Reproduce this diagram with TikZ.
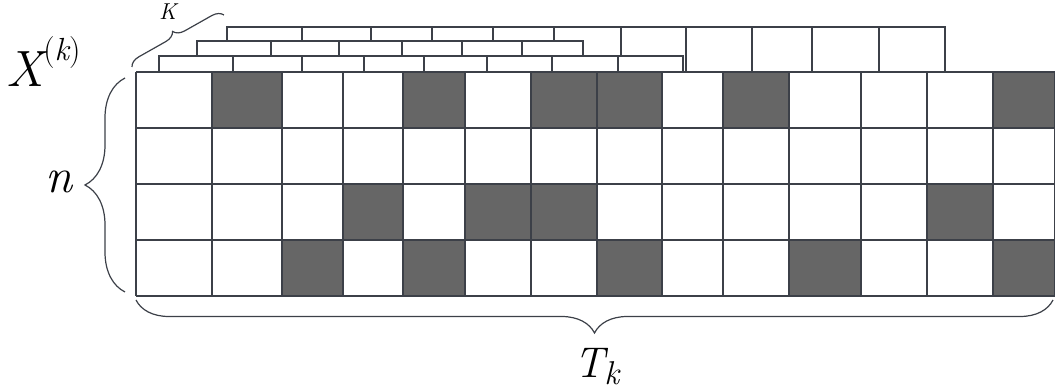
\documentclass[tikz,border=0pt]{standalone}
\usepackage{fontspec}
\usetikzlibrary{decorations.pathreplacing}
\definecolor{gridline}{HTML}{3C4048}
\definecolor{darkcell}{HTML}{666666}
\newcommand\labfont[1]{\fontsize{#1}{#1}\selectfont\itshape\addfontfeatures{FakeBold=4}}
\begin{document}
\begin{tikzpicture}[x=1pt,y=1pt,
  gl/.style={draw=gridline, line width=1.4pt},
  ll/.style={draw=gridline, line width=1.2pt},
  layerbox/.style={draw=gridline, line width=1.2pt, fill=white},
  dark/.style={fill=darkcell},
  bracedeco/.style={decorate, draw=gridline, line width=1.2pt, decoration={brace, amplitude=#1}},
  lbl/.style={inner sep=0pt, anchor=base west}]
\useasboundingbox (0,0) rectangle (1055,390);

% back layer 3
\path[layerbox] (227,318) rectangle (945,363);
\foreach \x in {302,371,432,493,554,621,686,752,812,879}
  \draw[ll] (\x,318) -- (\x,363);
% layer 2
\path[layerbox] (197,318) rectangle (583,349);
\foreach \x in {271,339,402,462,522}
  \draw[ll] (\x,318) -- (\x,349);
% layer 1
\path[layerbox] (159,318) rectangle (683,334);
\foreach \x in {233,302,364,424,487,552,618}
  \draw[ll] (\x,318) -- (\x,334);

% main grid
\fill[white] (136,94) rectangle (1055,318);
% row 0
\fill[dark] (212,262) rectangle (282,318);
\fill[dark] (403,262) rectangle (465,318);
\fill[dark] (531,262) rectangle (662,318);
\fill[dark] (723,262) rectangle (789,318);
\fill[dark] (993,262) rectangle (1055,318);
% row 2
\fill[dark] (343,150) rectangle (403,206);
\fill[dark] (465,150) rectangle (597,206);
\fill[dark] (927,150) rectangle (993,206);
% row 3
\fill[dark] (282,94) rectangle (343,150);
\fill[dark] (403,94) rectangle (465,150);
\fill[dark] (597,94) rectangle (662,150);
\fill[dark] (789,94) rectangle (861,150);
\fill[dark] (993,94) rectangle (1055,150);
\foreach \y in {318,262,206,150,94}
  \draw[gl] (136,\y) -- (1055,\y);
\foreach \x in {136,212,282,343,403,465,531,597,662,723,789,861,927,993,1055}
  \draw[gl] (\x,94) -- (\x,318);

% braces
\coordinate (nb1) at (125,98);
\coordinate (nb2) at (125,312);
\draw[bracedeco=40] (nb1) -- (nb2);
\coordinate (tb1) at (1053,90);
\coordinate (tb2) at (136,90);
\draw[bracedeco=33] (tb1) -- (tb2);
\coordinate (kb1) at (132,323);
\coordinate (kb2) at (224,375);
\draw[bracedeco=11] (kb1) -- (kb2);

% labels
\node[lbl] (Xlbl) at (6,303) {\labfont{51}X\raisebox{26pt}{\labfont{32}\upshape(\itshape k\upshape)}};
\node[lbl] (nlbl) at (45,197) {\labfont{49}n};
\node[lbl] (Tlbl) at (574,12) {\labfont{43}T\raisebox{-7pt}{\labfont{33}k}};
\node[lbl] (Klbl) at (159,370) {\labfont{23}K};
\end{tikzpicture}
\end{document}
